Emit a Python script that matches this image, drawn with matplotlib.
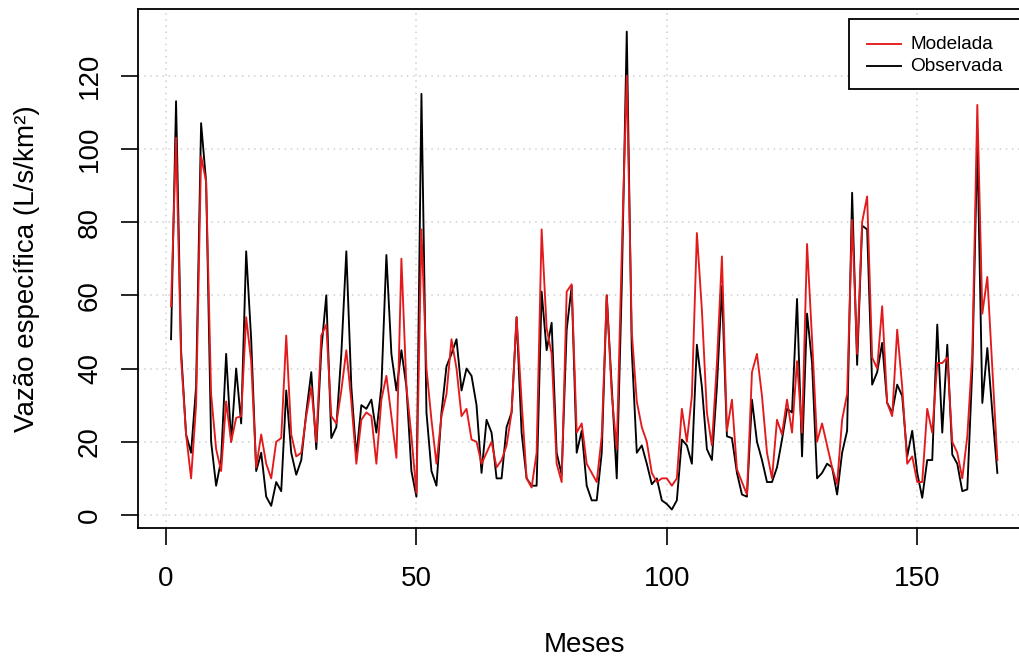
import matplotlib
matplotlib.use("Agg")
import matplotlib.pyplot as plt
from matplotlib.patches import Rectangle
from matplotlib.lines import Line2D

plt.rcParams['font.family'] = ['Liberation Sans', 'DejaVu Sans']

months = list(range(1, 167))

observada = [48, 113, 45, 22, 17, 35, 107, 91, 20, 8,
             15, 44, 20, 40, 25, 72, 48, 12, 17, 5,
             2.5, 9, 6.5, 34, 17, 11, 15, 28, 39, 18,
             45, 60, 21, 24, 44, 72, 35, 16, 30, 29,
             31.5, 22.5, 35, 71, 44, 34, 45, 35, 12, 5,
             115, 28, 12, 8, 28, 40.6, 44, 48, 34, 40,
             38, 30, 11.5, 26, 22.5, 10, 10, 24, 28, 54,
             22.5, 10, 8, 8, 61, 45, 52.5, 17, 11, 50.6,
             62.5, 17, 23, 8, 4, 4, 17, 60, 35, 10,
             62.5, 132, 45, 17, 19, 14, 8.4, 10, 4, 3,
             1.5, 4, 20.6, 19, 14, 46.5, 35, 18, 15, 35,
             62.5, 21.5, 21, 11.5, 5.6, 5, 31.5, 20, 15, 9,
             9, 13, 20.6, 29, 28, 59, 16, 55, 41.5, 10,
             11.5, 14, 13, 5.6, 17, 23, 88, 41, 79, 78,
             35.6, 39, 47, 30.6, 28, 35.6, 32.5, 16, 23, 11.5,
             4.7, 15, 15, 52, 22.5, 46.5, 16.5, 14, 6.5, 7,
             40, 102, 30.6, 45.6, 28, 11.5]

modelada = [57, 103, 43, 22, 10, 30, 98, 91, 33, 18,
            12, 31, 20, 26.5, 27, 54, 42, 13, 22, 14,
            10, 20, 21, 49, 22, 16, 17, 27, 35, 20,
            49, 52, 27, 25, 34, 45, 31, 14, 26, 28,
            27, 14, 31.5, 38, 27, 15.6, 70, 35, 21.5, 6,
            78, 40, 26, 14, 27, 33, 48, 40, 27, 29,
            20.6, 20, 14, 17, 20, 13, 15, 19, 28, 54,
            31, 10, 7.5, 17, 78, 51, 44, 14, 9, 61,
            63, 22.5, 25, 14, 11.5, 9, 21.5, 60, 33, 18,
            71.5, 120, 50, 31, 24, 20, 11.5, 9, 10, 10,
            8, 10, 29, 20, 32.5, 77, 56, 28, 19, 41.5,
            70.6, 23, 31.5, 12.5, 9, 5.6, 39, 44, 32.5, 17,
            10, 26, 22, 31.5, 22.5, 42, 22.5, 74, 48, 20,
            25, 19, 13, 8.4, 26, 33, 80.6, 44, 80, 87,
            43, 40, 57, 30.6, 27, 50.6, 35, 14, 16, 9,
            9, 29, 22.5, 41.5, 41.5, 43, 20, 17, 10, 21.5,
            44, 112, 55, 65, 40, 15]

xticks = [0, 50, 100, 150]
yticks = [0, 20, 40, 60, 80, 100, 120]
series_labels = ['Modelada', 'Observada']
series_colors = ['#e31a1c', 'black']

W, H = 1019, 658
fig = plt.figure(figsize=(W / 100, H / 100), dpi=100)
left_px, right_px, top_px, bottom_px = 138, 1030.4, 9.3, 528
ax = fig.add_axes([left_px / W, 1 - bottom_px / H,
                   (right_px - left_px) / W, (bottom_px - top_px) / H])

# grid
for xv in xticks:
    ax.axvline(xv, color='#cfcfcf', lw=1.1, ls=(0, (1, 3)), zorder=0)
for yv in yticks:
    ax.axhline(yv, color='#cfcfcf', lw=1.1, ls=(0, (1, 3)), zorder=0)

ax.plot(months, observada, color=series_colors[1], lw=1.35, zorder=2)
ax.plot(months, modelada, color=series_colors[0], lw=1.35, zorder=3)

ax.set_xlim(-5.6, 172.6)
ax.set_ylim(-3.55, 138.1)
ax.set_xticks(xticks)
ax.set_yticks(yticks)
ax.tick_params(axis='both', length=12.2, width=1.2, labelsize=20, color='black')
ax.tick_params(axis='x', pad=15)
ax.tick_params(axis='y', pad=13)
for lab in ax.get_yticklabels():
    lab.set_rotation(90)
    lab.set_va('center')
for s in ax.spines.values():
    s.set_linewidth(1.3)
    s.set_color('black')

ax.set_xlabel('Meses', fontsize=20)
ax.xaxis.set_label_coords(0.5, -(645 - bottom_px) / (bottom_px - top_px))
ax.xaxis.label.set_va('center')
ax.set_ylabel('Vazão específica (L/s/km²)', fontsize=20)
ax.yaxis.set_label_coords(-(left_px - 27) / (right_px - left_px), 0.5)
ax.yaxis.label.set_va('center')

# legend (drawn in figure pixel space to match the reference box)
def fx(px):
    return px / W

def fy(py):
    return 1 - py / H

fig.patches.append(Rectangle((fx(849), fy(89)), fx(1035) - fx(849), fy(19) - fy(89),
                             transform=fig.transFigure, facecolor='white',
                             edgecolor='black', lw=1.3, zorder=5))
row_y = [43.5, 65.5]
for lbl, col, yy in zip(series_labels, series_colors, row_y):
    fig.lines.append(Line2D([fx(867), fx(901)], [fy(yy), fy(yy)], color=col, lw=1.35,
                            transform=fig.transFigure, zorder=6))
    fig.text(fx(910), fy(yy + 1), lbl, fontsize=13.7, va='center', ha='left', zorder=7)

fig.savefig('out.png', dpi=100)
